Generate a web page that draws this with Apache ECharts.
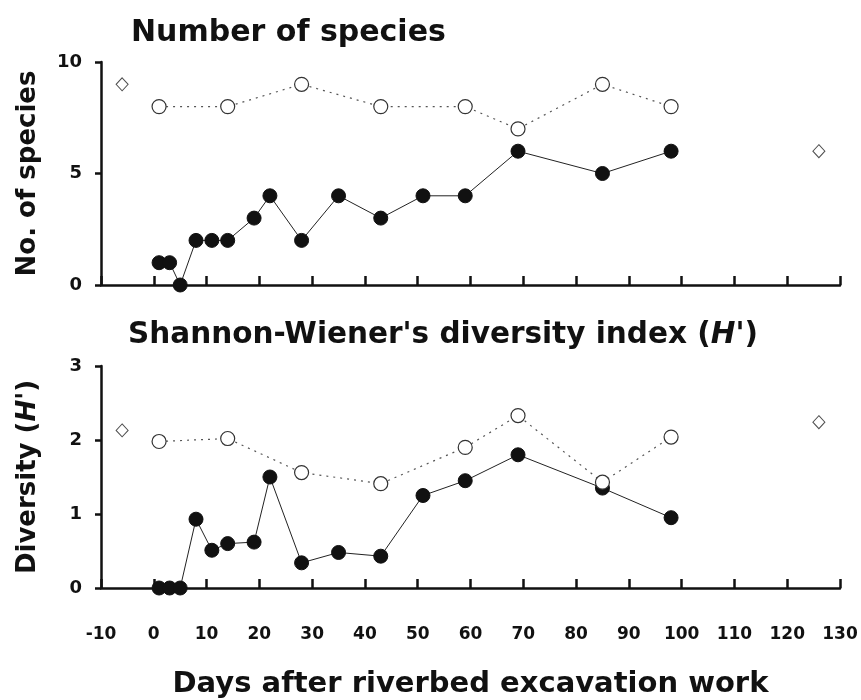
<!DOCTYPE html>
<html>
<head>
<meta charset="utf-8">
<script src="https://cdn.jsdelivr.net/npm/echarts@6/dist/echarts.min.js"></script>
<style>
  html, body { margin: 0; padding: 0; background: #fff; }
  #chart { width: 861px; height: 700px; }
</style>
</head>
<body>
<div id="chart"></div>
<script>
// days after excavation and values
const daysFilled = [1, 3, 5, 8, 11, 14, 19, 22, 28, 35, 43, 51, 59, 69, 85, 98]
const speciesFilled = [1, 1, 0, 2, 2, 2, 3, 4, 2, 4, 3, 4, 4, 6, 5, 6]
const diversityFilled = [0, 0, 0, 0.93, 0.51, 0.6, 0.62, 1.5, 0.34, 0.48, 0.43, 1.25, 1.45, 1.8, 1.35, 0.95]

const daysOpen = [1, 14, 28, 43, 59, 69, 85, 98]
const speciesOpen = [8, 8, 9, 8, 8, 7, 9, 8]
const diversityOpen = [1.98, 2.02, 1.56, 1.41, 1.9, 2.33, 1.43, 2.04]

const daysDiamond = [-6, 126]
const speciesDiamond = [9, 6]
const diversityDiamond = [2.13, 2.24]

const zip = (xs, ys) => xs.map((x, i) => [x, ys[i]])

const font = 'DejaVu Sans, Arial, sans-serif'
const axisLine = { show: true, onZero: false, lineStyle: { color: '#111', width: 2.5 } }
const tickLabel = { fontFamily: font, fontWeight: 'bold', color: '#111' }

function xAxis(gridIndex, showLabels) {
  return {
    type: 'value', gridIndex, min: -10, max: 130, interval: 10,
    axisLine,
    axisTick: { show: true, inside: true, length: 9, lineStyle: { color: '#111', width: 2.5 } },
    axisLabel: { show: showLabels, ...tickLabel, fontSize: 17, margin: 38 },
    splitLine: { show: false },
    name: showLabels ? 'Days after riverbed excavation work' : '',
    nameLocation: 'middle', nameGap: 82,
    nameTextStyle: { fontFamily: font, fontWeight: 'bold', fontSize: 29, color: '#111' }
  }
}
function yAxis(gridIndex, max, interval, name) {
  return {
    type: 'value', gridIndex, min: 0, max, interval,
    axisLine,
    axisTick: { show: true, length: 6, lineStyle: { color: '#111', width: 2.5 } },
    axisLabel: { ...tickLabel, fontSize: 18, margin: 19 },
    splitLine: { show: false },
    name, nameLocation: 'middle', nameGap: 60,
    nameTextStyle: {
      fontFamily: font, fontWeight: 'bold', fontSize: 26, color: '#111',
      rich: { it: { fontFamily: font, fontWeight: 'bold', fontStyle: 'italic', fontSize: 26, color: '#111' } }
    }
  }
}

function filled(idx, data) {
  return {
    type: 'line', xAxisIndex: idx, yAxisIndex: idx, data, z: 2,
    symbol: 'circle', symbolSize: 14,
    lineStyle: { color: '#222', width: 1 },
    itemStyle: { color: '#111', borderColor: '#111' }
  }
}
function open(idx, data) {
  return {
    type: 'line', xAxisIndex: idx, yAxisIndex: idx, data, z: 3,
    symbol: 'circle', symbolSize: 14, showAllSymbol: true,
    lineStyle: { color: '#555', width: 1.2, type: [2, 5] },
    itemStyle: { color: '#fff', borderColor: '#333', borderWidth: 1.2 }
  }
}
function diamond(idx, data) {
  return {
    type: 'scatter', xAxisIndex: idx, yAxisIndex: idx, data, z: 3,
    symbol: 'diamond', symbolSize: [12, 13],
    itemStyle: { color: '#fff', borderColor: '#222', borderWidth: 1 }
  }
}

const chart = echarts.init(document.getElementById('chart'))
chart.setOption({
  animation: false,
  backgroundColor: '#fff',
  title: [
    {
      text: 'Number of species', left: 126, top: 13,
      textStyle: { fontFamily: font, fontWeight: 'bold', fontSize: 30, color: '#111' }
    },
    {
      text: "Shannon-Wiener's diversity index ({it|H'})", left: 123, top: 315,
      textStyle: {
        fontFamily: font, fontWeight: 'bold', fontSize: 29.5, color: '#111',
        rich: { it: { fontFamily: font, fontWeight: 'bold', fontStyle: 'italic', fontSize: 29.5, color: '#111' } }
      }
    }
  ],
  grid: [
    { left: 101, right: 21, top: 62, height: 223 },
    { left: 101, right: 21, top: 366, height: 224 }
  ],
  xAxis: [xAxis(0, false), xAxis(1, true)],
  yAxis: [yAxis(0, 10, 5, 'No. of species'), yAxis(1, 3, 1, "Diversity ({it|H'})")],
  series: [
    filled(0, zip(daysFilled, speciesFilled)),
    open(0, zip(daysOpen, speciesOpen)),
    diamond(0, zip(daysDiamond, speciesDiamond)),
    filled(1, zip(daysFilled, diversityFilled)),
    open(1, zip(daysOpen, diversityOpen)),
    diamond(1, zip(daysDiamond, diversityDiamond))
  ]
})
</script>
</body>
</html>
